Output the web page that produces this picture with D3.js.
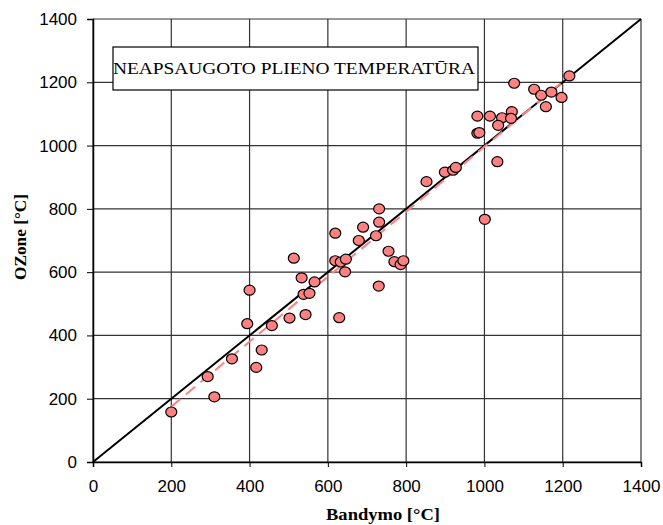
<!DOCTYPE html>
<html>
<head>
<meta charset="utf-8">
<script src="https://cdn.jsdelivr.net/npm/d3@7"></script>
<style>
  body { margin: 0; background: #fff; }
  svg { display: block; }
</style>
</head>
<body>
<svg width="663" height="525"></svg>
<script>
var bandymo = [200, 310, 293, 355, 417, 431, 394, 400, 457, 502, 543, 513, 533, 538, 553, 566,
  619, 619, 633, 646, 644, 629, 679, 723, 730, 755, 690, 731, 731, 770, 786, 793,
  852, 899, 920, 927, 982, 987, 1001, 1033, 982, 1014, 1045, 1070, 1068, 1035,
  1076, 1127, 1145, 1171, 1197, 1157, 1217];
var ozone = [158, 206, 270, 326, 299, 354, 437, 543, 431, 455, 466, 644, 582, 530, 533, 569,
  723, 636, 632, 641, 601, 456, 700, 715, 556, 666, 742, 800, 758, 633, 624, 636,
  886, 916, 922, 931, 1039, 1041, 767, 949, 1093, 1093, 1088, 1107, 1086, 1064,
  1197, 1178, 1159, 1169, 1152, 1123, 1220];

// trend line ends and the 1:1 line
var trendX = [200, 1210];
var trendY = [175, 1212];
var idealLine = [0, 1400];

var ticks = [0, 200, 400, 600, 800, 1000, 1200, 1400];
var title = "NEAPSAUGOTO PLIENO TEMPERATŪRA";
var xTitle = "Bandymo [°C]";
var yTitle = "OZone [°C]";

var svg = d3.select("svg");
var left_margin = 93, top_margin = 19, width = 548, height = 443;

var x = d3.scaleLinear().domain([0, 1400]).range([0, width]);
var y = d3.scaleLinear().domain([0, 1400]).range([height, 0]);

var g = svg.append("g").attr("transform", "translate(" + left_margin + "," + top_margin + ")");

// grid
g.selectAll(".vgrid").data(ticks).enter().append("line")
  .attr("x1", function(d) { return x(d); }).attr("x2", function(d) { return x(d); })
  .attr("y1", 0).attr("y2", height)
  .attr("stroke", "#333").attr("stroke-width", 1.2);
g.selectAll(".hgrid").data(ticks).enter().append("line")
  .attr("y1", function(d) { return y(d); }).attr("y2", function(d) { return y(d); })
  .attr("x1", 0).attr("x2", width)
  .attr("stroke", "#333").attr("stroke-width", 1.2);

// axes
var xAxis = g.append("g")
  .attr("transform", "translate(0," + height + ")")
  .call(d3.axisBottom(x).tickValues(ticks).tickSize(5).tickPadding(13).tickFormat(d3.format("d")));
var yAxis = g.append("g")
  .call(d3.axisLeft(y).tickValues(ticks).tickSize(6).tickPadding(10).tickFormat(d3.format("d")));

[xAxis, yAxis].forEach(function(a) {
  a.select(".domain").attr("stroke", "#000").attr("stroke-width", 1.5);
  a.selectAll(".tick line").attr("stroke", "#000");
  a.selectAll("text")
    .attr("font-family", "'Liberation Sans', Arial, sans-serif")
    .attr("font-size", 17)
    .attr("fill", "#000");
});

// 1:1 line
g.append("line")
  .attr("x1", x(idealLine[0])).attr("y1", y(idealLine[0]))
  .attr("x2", x(idealLine[1])).attr("y2", y(idealLine[1]))
  .attr("stroke", "#000").attr("stroke-width", 2);

// trend line
g.append("line")
  .attr("x1", x(trendX[0])).attr("y1", y(trendY[0]))
  .attr("x2", x(trendX[1])).attr("y2", y(trendY[1]))
  .attr("stroke", "#ff8080").attr("stroke-width", 2)
  .attr("stroke-dasharray", "12,7");

// points
g.selectAll(".pt").data(bandymo).enter().append("ellipse")
  .attr("class", "pt")
  .attr("cx", function(d) { return x(d); })
  .attr("cy", function(d, i) { return y(ozone[i]); })
  .attr("rx", 5.5).attr("ry", 5)
  .attr("fill", "#ff8080")
  .attr("stroke", "#000").attr("stroke-width", 1.2);

// title box
svg.append("rect")
  .attr("x", 113).attr("y", 47).attr("width", 365).attr("height", 43)
  .attr("fill", "#fff").attr("stroke", "#000").attr("stroke-width", 1.2);
svg.append("text")
  .attr("x", 113).attr("y", 74)
  .attr("font-family", "'Liberation Serif', 'Times New Roman', serif")
  .attr("font-size", 17)
  .attr("textLength", 362).attr("lengthAdjust", "spacingAndGlyphs")
  .text(title);

// axis titles
svg.append("text")
  .attr("x", 383).attr("y", 520)
  .attr("text-anchor", "middle")
  .attr("font-family", "'Liberation Serif', 'Times New Roman', serif")
  .attr("font-weight", "bold").attr("font-size", 16)
  .attr("textLength", 114).attr("lengthAdjust", "spacingAndGlyphs")
  .text(xTitle);
svg.append("text")
  .attr("transform", "translate(26,237) rotate(-90)")
  .attr("text-anchor", "middle")
  .attr("font-family", "'Liberation Serif', 'Times New Roman', serif")
  .attr("font-weight", "bold").attr("font-size", 16)
  .attr("textLength", 86).attr("lengthAdjust", "spacingAndGlyphs")
  .text(yTitle);
</script>
</body>
</html>
